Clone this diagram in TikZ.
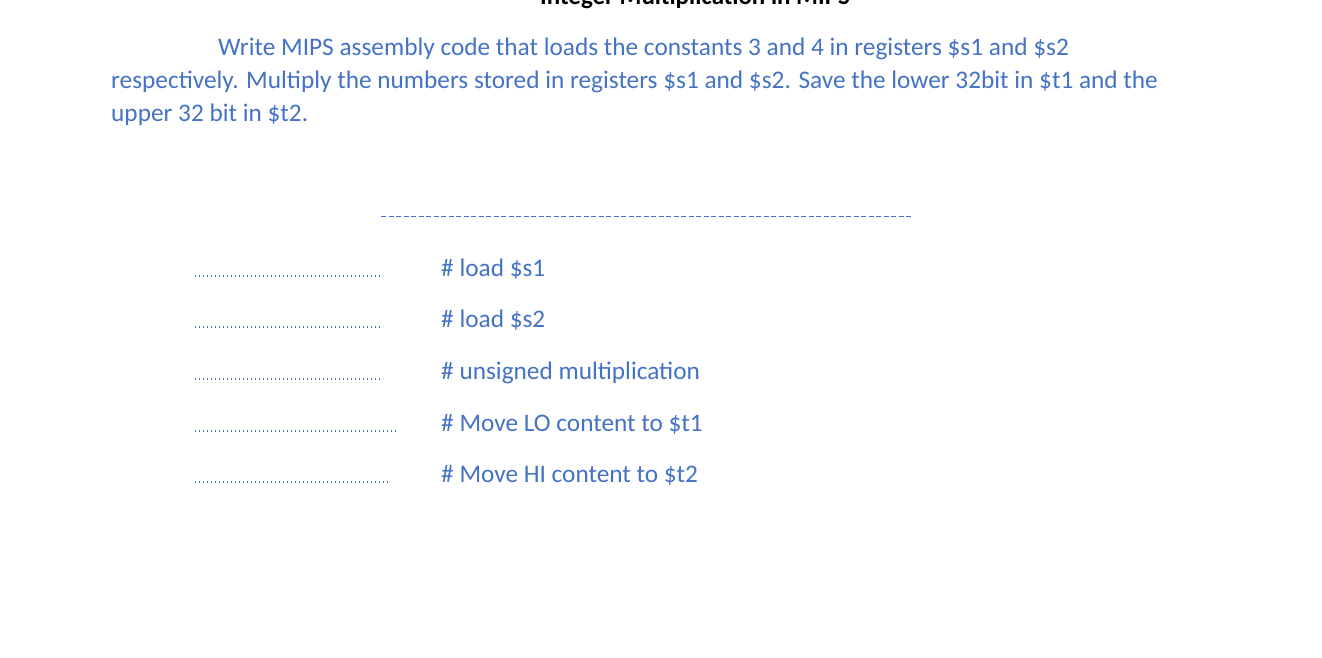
\documentclass[tikz,border=0pt]{standalone}
\usepackage{fontspec}
\setmainfont{Carlito}
\definecolor{txt}{HTML}{4472C4}
\begin{document}
\begin{tikzpicture}[x=1pt,y=-1pt,
  body/.style={anchor=base west,inner sep=0,text=txt,font=\fontsize{25.3}{30}\selectfont},
  dots/.style={anchor=base west,inner sep=0,text=txt,font=\fontsize{16}{18}\selectfont}]
\useasboundingbox (0,0) rectangle (1322,657);
\clip (0,0) rectangle (1322,657);
\node[anchor=base,inner sep=0,font=\bfseries\fontsize{25}{30}\selectfont] (title) at (695,4) {Integer Multiplication in MIPS};
\node[body] (l1) at (218,55) {Write MIPS assembly code that loads the constants 3 and 4 in registers \$s1 and \$s2};
\node[body] (l2) at (111,88) {respectively. Multiply the numbers stored in registers \$s1 and \$s2. Save the lower 32bit in \$t1 and the};
\node[body] (l3) at (111,121) {upper 32 bit in \$t2.};
\draw[txt,dash pattern=on 5pt off 2.5pt,line width=0.8pt] (381,216) -- (913,216);
\foreach \y/\t/\n/\w in {276/load \$s1/1/383,327/load \$s2/2/383,379/unsigned multiplication/3/383,431/Move LO content to \$t1/4/398,482/Move HI content to \$t2/5/390}{
  \draw[txt,line width=1.2pt,dash pattern=on 1.2pt off 2.8pt] (195,\y) -- (\w,\y);
  \node[body] (c\n) at (441,\y) {\# \t};
}
\end{tikzpicture}
\end{document}
